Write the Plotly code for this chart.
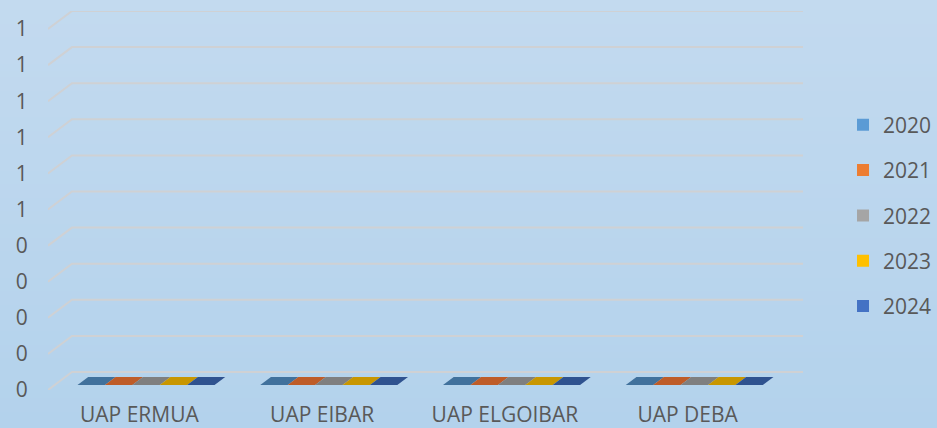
import base64
import struct
import zlib

import plotly.graph_objects as go

# datos (todos los valores son 0 en el original)
categorias = ["UAP ERMUA", "UAP EIBAR", "UAP ELGOIBAR", "UAP DEBA"]
anios = ["2020", "2021", "2022", "2023", "2024"]
valores = {
    "2020": [0, 0, 0, 0],
    "2021": [0, 0, 0, 0],
    "2022": [0, 0, 0, 0],
    "2023": [0, 0, 0, 0],
    "2024": [0, 0, 0, 0],
}
ticks_y = [0, 0.1, 0.2, 0.3, 0.4, 0.5, 0.6, 0.7, 0.8, 0.9, 1.0]
ticks_y_texto = ["0", "0", "0", "0", "0", "1", "1", "1", "1", "1", "1"]

colores = ["#5B9BD5", "#ED7D31", "#A5A5A5", "#FFC000", "#4472C4"]
colores_cara = ["#41719C", "#BE5C28", "#7F7F7F", "#C89600", "#2F528F"]
colores_lado = ["#365F84", "#9E4C20", "#6A6A6A", "#A77D00", "#26447A"]

# geometria pseudo-3D (profundidad en unidades de los ejes)
dx = 24 / 182.75
dy = 18 / 361
f1, f2 = 5 / 18, 13 / 18
margen, ancho = 0.125, 0.15


def png_degradado(arriba, abajo, alto=64):
    # PNG de 1 px de ancho con un degradado vertical
    filas = b""
    for k in range(alto):
        t = k / (alto - 1)
        px = bytes(round(a + (b - a) * t) for a, b in zip(arriba, abajo))
        filas += b"\x00" + px

    def chunk(tipo, datos):
        c = tipo + datos
        return struct.pack(">I", len(datos)) + c + struct.pack(">I", zlib.crc32(c) & 0xFFFFFFFF)

    png = b"\x89PNG\r\n\x1a\n"
    png += chunk(b"IHDR", struct.pack(">IIBBBBB", 1, alto, 8, 2, 0, 0, 0))
    png += chunk(b"IDAT", zlib.compress(filas))
    png += chunk(b"IEND", b"")
    return "data:image/png;base64," + base64.b64encode(png).decode()


fig = go.Figure()

# rejilla: pared lateral + pared del fondo
gx, gy = [], []
for v in ticks_y:
    gx += [-0.5, -0.5 + dx, len(categorias) - 0.5 + dx, None]
    gy += [v, v + dy, v + dy, None]
fig.add_trace(go.Scatter(x=gx, y=gy, mode="lines", line=dict(color="#CFD1D4", width=2),
                         hoverinfo="skip", showlegend=False))

# columnas
for j, anio in enumerate(anios):
    for i, v in enumerate(valores[anio]):
        xl = i - 0.5 + margen + j * ancho
        xr = xl + ancho
        # cara frontal
        fig.add_trace(go.Scatter(
            x=[xl + f1 * dx, xr + f1 * dx, xr + f1 * dx, xl + f1 * dx, xl + f1 * dx],
            y=[f1 * dy, f1 * dy, v + f1 * dy, v + f1 * dy, f1 * dy],
            fill="toself", fillcolor=colores[j], mode="lines", line=dict(width=0),
            hoverinfo="skip", showlegend=False))
        # lateral
        fig.add_trace(go.Scatter(
            x=[xr + f1 * dx, xr + f2 * dx, xr + f2 * dx, xr + f1 * dx, xr + f1 * dx],
            y=[f1 * dy, f2 * dy, v + f2 * dy, v + f1 * dy, f1 * dy],
            fill="toself", fillcolor=colores_lado[j], mode="lines", line=dict(width=0),
            hoverinfo="skip", showlegend=False))
        # tapa
        fig.add_trace(go.Scatter(
            x=[xl + f1 * dx, xr + f1 * dx, xr + f2 * dx, xl + f2 * dx, xl + f1 * dx],
            y=[v + f1 * dy, v + f1 * dy, v + f2 * dy, v + f2 * dy, v + f1 * dy],
            fill="toself", fillcolor=colores_cara[j], mode="lines", line=dict(width=0),
            hoverinfo="skip", showlegend=False))

# leyenda
for j, anio in enumerate(anios):
    fig.add_trace(go.Bar(x=list(range(len(categorias))), y=valores[anio], name=anio,
                         marker=dict(color=colores[j], line=dict(width=0)),
                         legendgroup=anio, hoverinfo="skip", width=0.001))

fig.update_layout(
    width=937, height=428,
    margin=dict(l=48, r=134, t=11, b=38, autoexpand=False),
    paper_bgcolor="#B9D5ED", plot_bgcolor="rgba(0,0,0,0)",
    font=dict(family="Open Sans", size=21, color="#595959"),
    showlegend=True,
    legend=dict(x=1.053, y=0.46, xanchor="left", yanchor="middle",
                bgcolor="rgba(0,0,0,0)", traceorder="grouped", tracegroupgap=15,
                font=dict(size=21, color="#595959")),
    barmode="overlay",
    images=[dict(source=png_degradado((195, 218, 239), (179, 210, 236)),
                 xref="paper", yref="paper", x=-48 / 755, y=1 + 11 / 379,
                 sizex=937 / 755, sizey=428 / 379, xanchor="left", yanchor="top",
                 sizing="stretch", layer="below")],
)
fig.update_xaxes(range=[-0.5, len(categorias) - 0.5 + dx], showgrid=False, zeroline=False,
                 showline=False, tickmode="array", tickvals=list(range(len(categorias))),
                 ticktext=categorias, ticks="outside", ticklen=6, tickcolor="rgba(0,0,0,0)",
                 fixedrange=True)
fig.update_yaxes(range=[0, 1 + dy], showgrid=False, zeroline=False, showline=False,
                 tickmode="array", tickvals=ticks_y, ticktext=ticks_y_texto,
                 ticks="outside", ticklen=15, tickcolor="rgba(0,0,0,0)", fixedrange=True)

# quitar el margen del body para que la figura empiece en (0, 0)
fig.write_html("out.html", config={"displayModeBar": False},
               post_script="document.body.style.margin='0';")
